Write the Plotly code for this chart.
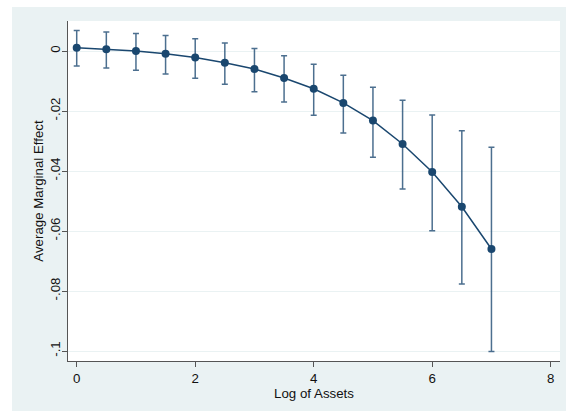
import plotly.graph_objects as go

log_assets = [0, 0.5, 1, 1.5, 2, 2.5, 3, 3.5, 4, 4.5, 5, 5.5, 6, 6.5, 7]
marginal_effect = [0.0011, 0.0006, 0.0000, -0.0009, -0.0022, -0.0039, -0.0060, -0.0090,
                   -0.0126, -0.0173, -0.0232, -0.0310, -0.0403, -0.0519, -0.0660]
ci_upper = [0.0068, 0.0063, 0.0058, 0.0052, 0.0041, 0.0027, 0.0008, -0.0016,
            -0.0044, -0.0081, -0.0121, -0.0164, -0.0213, -0.0266, -0.0321]
ci_lower = [-0.0050, -0.0057, -0.0064, -0.0077, -0.0091, -0.0111, -0.0136, -0.0170,
            -0.0214, -0.0273, -0.0354, -0.0460, -0.0599, -0.0777, -0.1002]

y_tickvals = [0, -0.02, -0.04, -0.06, -0.08, -0.1]
y_ticktext = ["0", "-.02", "-.04", "-.06", "-.08", "-.1"]
x_tickvals = [0, 2, 4, 6, 8]

navy = "#1a476f"
panel = "#eaf2f3"

err_plus = [u - m for u, m in zip(ci_upper, marginal_effect)]
err_minus = [m - l for m, l in zip(marginal_effect, ci_lower)]

fig = go.Figure()
fig.add_trace(go.Scatter(
    x=log_assets, y=marginal_effect, mode="lines+markers",
    line=dict(color=navy, width=1.5),
    marker=dict(color=navy, size=8),
    error_y=dict(type="data", symmetric=False, array=err_plus, arrayminus=err_minus,
                 color="rgba(26,71,111,0.78)", thickness=1.5, width=3),
    showlegend=False,
))

font_family = "Liberation Sans, Arial, Helvetica, sans-serif"
fs = 13.3
fig.update_layout(
    width=567, height=411,
    margin=dict(l=68, r=7, t=21, b=50),
    paper_bgcolor=panel,
    plot_bgcolor="white",
    font=dict(family=font_family, size=fs, color="#111"),
    xaxis=dict(range=[-0.147, 8.157], tickvals=x_tickvals, ticks="outside", ticklen=5,
               tickcolor="#555", tickwidth=1, showline=True, linecolor="#555", linewidth=1,
               showgrid=False, zeroline=False,
               title=dict(text="Log of Assets", standoff=1, font=dict(size=fs)),
               tickfont=dict(size=fs)),
    yaxis=dict(range=[-0.10333, 0.01], tickvals=y_tickvals, ticktext=y_ticktext,
               tickangle=-90, ticks="outside", ticklen=5, tickcolor="#555", tickwidth=1,
               ticklabelstandoff=-3,
               showline=True, linecolor="#555", linewidth=1, showgrid=True,
               gridcolor=panel, gridwidth=1, zeroline=False,
               title=dict(text="Average Marginal Effect", standoff=1, font=dict(size=fs)),
               tickfont=dict(size=fs)),
    shapes=[
        dict(type="rect", xref="paper", yref="paper", x0=-68/492, x1=-56/492, y0=-0.2, y1=1.1,
             fillcolor="white", line=dict(width=0), layer="below"),
        dict(type="rect", xref="paper", yref="paper", x0=-0.2, x1=1.1, y0=1 + 14/340, y1=1 + 21/340,
             fillcolor="white", line=dict(width=0), layer="below"),
        dict(type="rect", xref="paper", yref="paper", x0=1 + 6/492, x1=1 + 7/492, y0=-0.2, y1=1.1,
             fillcolor="white", line=dict(width=0), layer="below"),
    ],
)

fig.write_html("out.html", config={"displayModeBar": False},
               post_script="document.body.style.margin='0';document.body.style.overflow='hidden';")
